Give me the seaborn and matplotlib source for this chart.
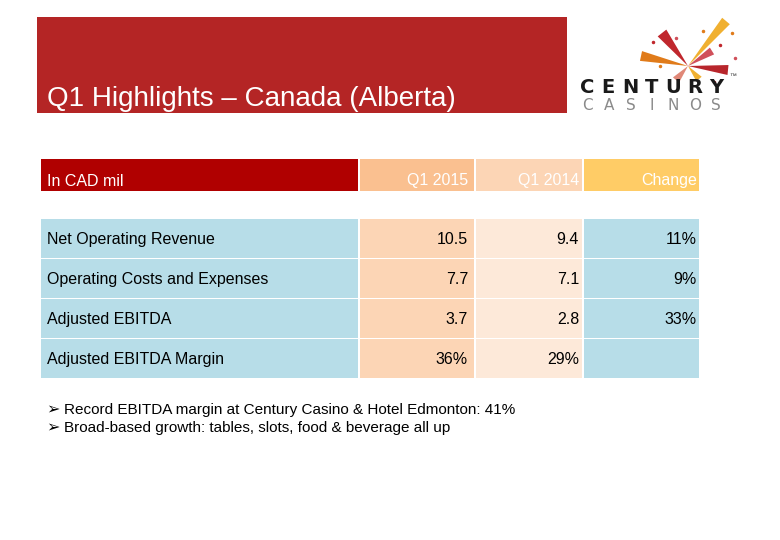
import matplotlib
matplotlib.use('Agg')
import matplotlib.pyplot as plt
import seaborn as sns
import pandas as pd
from matplotlib.patches import Polygon

# data of the slide
title = 'Q1 Highlights – Canada (Alberta)'
unit_label = 'In CAD mil'
col_labels = ['Q1 2015', 'Q1 2014', 'Change']
row_labels = ['Net Operating Revenue', 'Operating Costs and Expenses',
              'Adjusted EBITDA', 'Adjusted EBITDA Margin']
q1_2015 = [10.5, 7.7, 3.7, 36]
q1_2014 = [9.4, 7.1, 2.8, 29]
change_pct = [11, 9, 33, None]
row_is_pct = [False, False, False, True]
bullets = ['Record EBITDA margin at Century Casino & Hotel Edmonton: 41%',
           'Broad-based growth: tables, slots, food & beverage all up']

df = pd.DataFrame({'label': row_labels, 'q1_2015': q1_2015, 'q1_2014': q1_2014,
                   'change': change_pct, 'pct': row_is_pct})

def fmt(v, pct):
    if v is None or pd.isna(v):
        return ''
    return f'{v:.0f}%' if pct else f'{v:.1f}'

sns.set_theme(style='white')
plt.rcParams['font.family'] = ['Liberation Sans', 'DejaVu Sans']

fig = plt.figure(figsize=(7.8, 5.4), dpi=100)
ax = fig.add_axes([0, 0, 1, 1])
ax.set_xlim(0, 780)
ax.set_ylim(540, 0)
ax.axis('off')

# title banner
ax.bar(37, 96, width=530, bottom=17, align='edge', color='#B42525', linewidth=0)
ax.text(47, 106, title, color='white', fontsize=20, va='baseline', ha='left')

# table layout
col_left = [41, 360, 476, 584]
col_right = [358, 474, 582, 699]
text_right = [468, 579, 697]
head_colors = ['#B00000', '#FAC090', '#FCD5B5', '#FFCC66']
body_colors = ['#B7DDE8', '#FCD5B5', '#FDE9D9', '#B7DDE8']
head_top, head_h = 159, 32
row_top, row_h, gap = 219, 40, 1.5
txt_size = 11.5

for j in range(4):
    ax.bar(col_left[j], head_h, width=col_right[j] - col_left[j], bottom=head_top,
           align='edge', color=head_colors[j], linewidth=0)
ax.text(47, head_top + 22, unit_label, color='white', fontsize=txt_size,
        ha='left', va='center')
for j, lab in enumerate(col_labels):
    ax.text(text_right[j], head_top + 22, lab, color='white', fontsize=txt_size,
            ha='right', va='center')

for i, r in df.iterrows():
    top = row_top + i * row_h
    for j in range(4):
        ax.bar(col_left[j], row_h - gap, width=col_right[j] - col_left[j], bottom=top,
               align='edge', color=body_colors[j], linewidth=0)
    yc = top + row_h / 2 + 0.5
    ax.text(47, yc, r['label'], color='black', fontsize=txt_size, ha='left', va='center')
    vals = [fmt(r['q1_2015'], r['pct']), fmt(r['q1_2014'], r['pct']), fmt(r['change'], True)]
    for j, s in enumerate(vals):
        ax.text(text_right[j], yc, s, color='black', fontsize=txt_size,
                ha='right', va='center')

# bullets
for k, b in enumerate(bullets):
    y = 410 + k * 18
    ax.text(46, y, '\u27a2', color='black', fontsize=11.5, family=['DejaVu Sans'],
            ha='left', va='center')
    ax.text(64, y, b, color='black', fontsize=11, ha='left', va='center')

# logo: brush burst + wordmark
cx, cy = 688, 66
strokes = [((641, 56), '#E07B1A', 5), ((662, 33), '#C0272D', 5.5), ((726, 21), '#F0B030', 5),
           ((712, 51), '#D0505A', 4), ((728, 70), '#B8262C', 5), ((676, 80), '#E08878', 4),
           ((699, 79), '#F0B030', 3.5)]
for (ex, ey), c, w in strokes:
    dx, dy = ex - cx, ey - cy
    n = (dx ** 2 + dy ** 2) ** 0.5
    px, py = -dy / n * w, dx / n * w
    ax.add_patch(Polygon([(cx, cy), (ex + px, ey + py), (ex - px, ey - py)],
                         closed=True, color=c, linewidth=0))
for (dx, dy, c) in [(653, 42, '#C0272D'), (676, 38, '#D0505A'), (703, 31, '#E07B1A'),
                    (720, 45, '#C0272D'), (735, 58, '#D0505A'), (660, 66, '#E07B1A'),
                    (714, 82, '#C0272D'), (732, 33, '#E07B1A')]:
    ax.plot(dx, dy, 'o', ms=1.5, color=c)

for k, ch in enumerate('CENTURY'):
    ax.text(576 + (k + 0.5) * 151 / 7, 93, ch, fontsize=14, fontweight='bold',
            family=['DejaVu Sans'], color='#1A1A1A', ha='center', va='baseline')
for k, ch in enumerate('CASINOS'):
    ax.text(577 + (k + 0.5) * 150 / 7, 98, ch, fontsize=11,
            family=['DejaVu Sans'], color='#8A8A8A', ha='center', va='top')
ax.text(729, 80, '™', fontsize=5, color='#333333', ha='left', va='bottom')

fig.savefig('out.png', dpi=100)
